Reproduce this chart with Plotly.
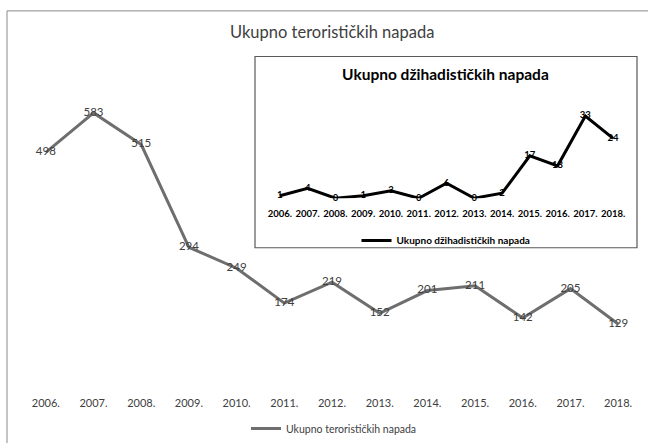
import plotly.graph_objects as go

years = ["2006.", "2007.", "2008.", "2009.", "2010.", "2011.", "2012.",
         "2013.", "2014.", "2015.", "2016.", "2017.", "2018."]
total_attacks = [498, 583, 515, 294, 249, 174, 219, 152, 201, 211, 142, 205, 129]
jihadist_attacks = [1, 4, 0, 1, 3, 0, 6, 0, 2, 17, 13, 33, 24]

main_name = "Ukupno terorističkih napada"
inset_name = "Ukupno džihadističkih napada"

W, H = 648, 443
def px(x):
    return x / W
def py(y):
    return (H - y) / H

FONT = "Lato, Calibri, Carlito, sans-serif"

fig = go.Figure()

fig.add_trace(go.Scatter(
    x=years, y=total_attacks, mode="lines+text", name=main_name,
    text=[str(v) for v in total_attacks], textposition="middle center",
    textfont=dict(family=FONT, size=11.5, color="#404040"),
    line=dict(color="#6e6e6e", width=3),
    xaxis="x", yaxis="y", legend="legend",
    cliponaxis=False, showlegend=True,
))

fig.add_trace(go.Scatter(
    x=years, y=jihadist_attacks, mode="lines+text", name=inset_name,
    text=[str(v) for v in jihadist_attacks], textposition="middle center",
    textfont=dict(family=FONT, size=9.5, color="#000000", weight="bold"),
    line=dict(color="#000000", width=3),
    xaxis="x2", yaxis="y2", legend="legend2",
    cliponaxis=False, showlegend=True,
))

fig.update_layout(
    width=W, height=H,
    margin=dict(l=0, r=0, t=0, b=0),
    paper_bgcolor="white", plot_bgcolor="rgba(0,0,0,0)",
    font=dict(family=FONT, color="#404040"),
    showlegend=True,
    xaxis=dict(domain=[px(22), px(642)], range=[-0.5, 12.5], type="category",
               showgrid=False, zeroline=False, showline=False, ticks="",
               tickfont=dict(family=FONT, size=11, color="#404040"),
               ticklabelstandoff=11, anchor="y"),
    yaxis=dict(domain=[py(387.5), py(59)], range=[0, 700], visible=False,
               anchor="x"),
    xaxis2=dict(domain=[px(266), px(627)], range=[-0.5, 12.5], type="category",
                showgrid=False, zeroline=False, showline=False, ticks="",
                tickfont=dict(family=FONT, size=9.5, color="#000000", weight="bold"),
                ticklabelstandoff=8, anchor="y2"),
    yaxis2=dict(domain=[py(200), py(112)], range=[0, 35], visible=False,
                anchor="x2"),
    legend=dict(x=px(334), y=py(418), xanchor="center", yanchor="top",
                orientation="h", bgcolor="rgba(0,0,0,0)",
                font=dict(family=FONT, size=10.5, color="#404040"),
                itemwidth=30),
    legend2=dict(x=px(446), y=py(228), xanchor="center", yanchor="top",
                 orientation="h", bgcolor="rgba(0,0,0,0)",
                 font=dict(family=FONT, size=10, color="#000000", weight="bold"),
                 itemwidth=30),
    shapes=[
        dict(type="rect", xref="paper", yref="paper",
             x0=px(7), x1=px(700), y0=py(520), y1=py(11),
             line=dict(color="#8a8a8a", width=1), fillcolor="rgba(0,0,0,0)",
             layer="below"),
        dict(type="rect", xref="paper", yref="paper",
             x0=px(255), x1=px(637), y0=py(250), y1=py(57),
             line=dict(color="#595959", width=1.2), fillcolor="white",
             layer="below"),
    ],
    annotations=[
        dict(text=main_name, xref="paper", yref="paper", x=px(332), y=py(32),
             xanchor="center", yanchor="middle", showarrow=False,
             font=dict(family=FONT, size=16.5, color="#404040")),
        dict(text=inset_name, xref="paper", yref="paper", x=px(446), y=py(75),
             xanchor="center", yanchor="middle", showarrow=False,
             font=dict(family=FONT, size=15.5, color="#000000", weight="bold")),
    ],
)

fig.write_html("out.html", config={"displayModeBar": False},
               post_script="document.body.style.margin='0';")
